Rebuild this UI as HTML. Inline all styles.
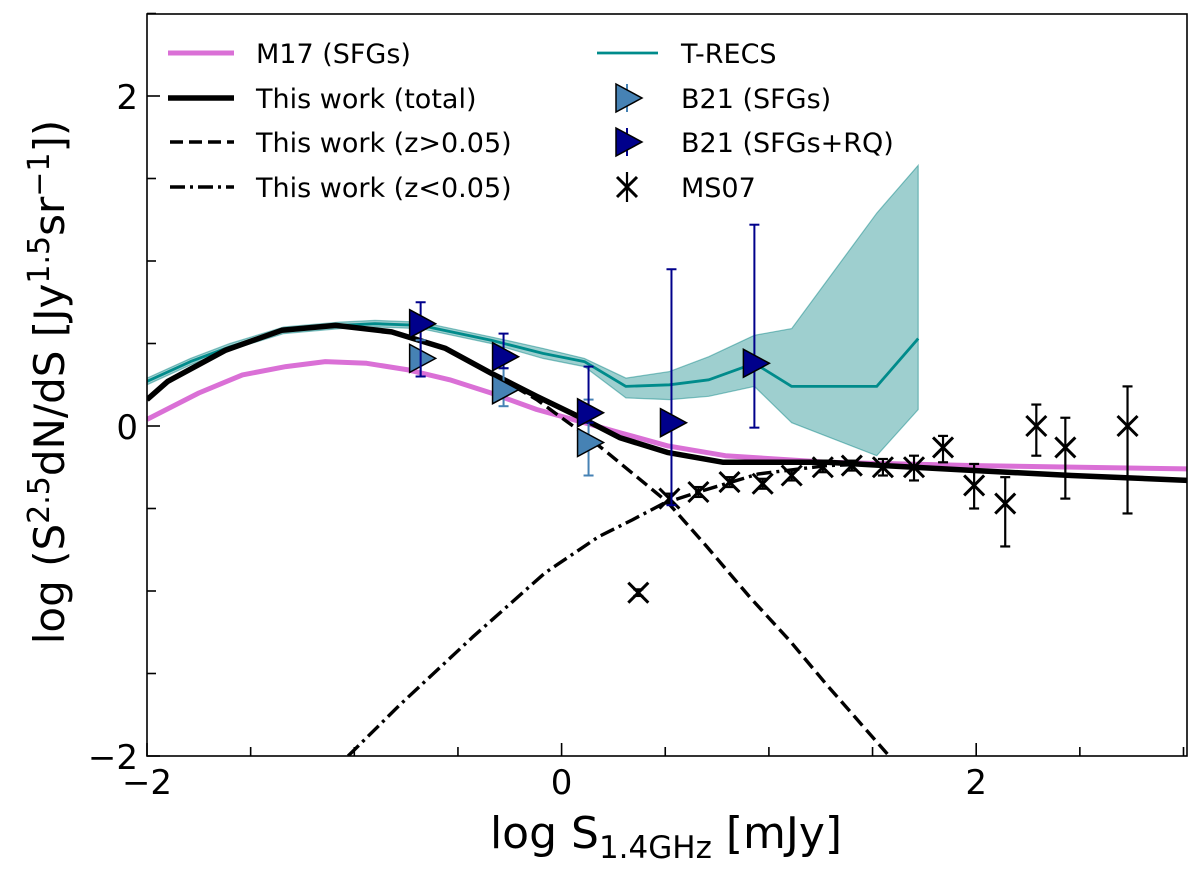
<!DOCTYPE html>
<html><head><meta charset="utf-8"><style>
html,body{margin:0;padding:0;background:#fff;}
svg{display:block;font-family:"DejaVu Sans","Liberation Sans",sans-serif;}
</style></head><body>
<svg id="chart" width="1200" height="873" viewBox="0 0 1200 873">
<defs><clipPath id="plotclip"><rect x="147" y="14" width="1040" height="742"/></clipPath></defs>
<g id="plot" clip-path="url(#plotclip)"></g>
<rect x="147" y="14" width="1040" height="742" fill="none" stroke="#000" stroke-width="1.6"/>
<g id="axes"></g>
<text x="666" y="848" font-size="44" text-anchor="middle">log S<tspan font-size="31" dy="10">1.4GHz</tspan><tspan dy="-10"> [mJy]</tspan></text>
<text transform="translate(64,382) rotate(-90)" font-size="42" text-anchor="middle">log (S<tspan font-size="30" dy="-15">2.5</tspan><tspan dy="15">dN/dS [Jy</tspan><tspan font-size="30" dy="-15">1.5</tspan><tspan dy="15">sr</tspan><tspan font-size="30" dy="-15">−1</tspan><tspan dy="15">])</tspan></text>
<g id="legend"></g>
</svg>
<script>
// ---- data ----
const trecsX = [-2.00,-1.79,-1.60,-1.34,-1.07,-0.90,-0.68,-0.34,-0.09,0.11,0.31,0.52,0.71,0.93,1.11,1.52,1.72];
const trecsY = [0.27,0.39,0.48,0.58,0.61,0.62,0.61,0.52,0.44,0.39,0.24,0.25,0.28,0.38,0.24,0.24,0.53];
const trecsHi = [0.29,0.41,0.50,0.60,0.63,0.64,0.63,0.54,0.47,0.41,0.29,0.33,0.42,0.55,0.59,1.29,1.58];
const trecsLo = [0.25,0.37,0.46,0.56,0.59,0.60,0.59,0.50,0.41,0.36,0.17,0.16,0.18,0.24,0.02,-0.18,0.10];
const m17X = [-2.00,-1.75,-1.54,-1.33,-1.14,-0.94,-0.74,-0.54,-0.34,-0.12,0.11,0.28,0.51,0.79,1.28,2.00,3.02];
const m17Y = [0.04,0.20,0.31,0.36,0.39,0.38,0.34,0.28,0.20,0.10,0.02,-0.04,-0.12,-0.18,-0.22,-0.24,-0.26];
const totX = [-2.00,-1.90,-1.62,-1.35,-1.09,-0.82,-0.56,-0.34,-0.12,0.11,0.28,0.51,0.78,1.28,1.70,2.00,2.46,3.02];
const totY = [0.16,0.27,0.46,0.58,0.61,0.57,0.47,0.32,0.18,0.04,-0.07,-0.16,-0.22,-0.22,-0.25,-0.27,-0.30,-0.33];
const hiZX = [-2.00,-1.90,-1.62,-1.35,-1.09,-0.82,-0.56,-0.34,-0.12,0.11,0.21,0.51,0.70,0.91,1.10,1.28,1.58];
const hiZY = [0.16,0.27,0.46,0.58,0.61,0.57,0.47,0.32,0.16,-0.05,-0.15,-0.46,-0.73,-1.04,-1.30,-1.57,-2.00];
const loZX = [-1.03,-0.78,-0.43,-0.08,0.18,0.34,0.49,0.66,0.95,1.28,1.50];
const loZY = [-2.00,-1.69,-1.28,-0.89,-0.67,-0.57,-0.47,-0.40,-0.29,-0.24,-0.23];
const b21sX = [-0.68,-0.28,0.13];
const b21sY = [0.41,0.22,-0.10];
const b21sHi = [0.52,0.35,0.16];
const b21sLo = [0.30,0.12,-0.30];
const b21rX = [-0.68,-0.28,0.13,0.53,0.93];
const b21rY = [0.62,0.42,0.08,0.02,0.38];
const b21rHi = [0.75,0.56,0.36,0.95,1.22];
const b21rLo = [0.30,0.35,0.02,-0.48,-0.01];
const msX = [0.37,0.52,0.66,0.81,0.97,1.11,1.26,1.40,1.55,1.70,1.84,1.99,2.14,2.29,2.43,2.73];
const msY = [-1.01,-0.44,-0.40,-0.34,-0.35,-0.30,-0.25,-0.24,-0.25,-0.25,-0.13,-0.36,-0.47,0.00,-0.13,0.00];
const msHi = [-0.99,-0.41,-0.37,-0.31,-0.32,-0.27,-0.22,-0.21,-0.20,-0.18,-0.06,-0.23,-0.31,0.13,0.05,0.24];
const msLo = [-1.03,-0.47,-0.43,-0.37,-0.38,-0.33,-0.28,-0.27,-0.30,-0.33,-0.22,-0.50,-0.73,-0.18,-0.44,-0.53];
const xTicks = [-2,0,2];
const yTicks = [2,0,-2];

// ---- scales ----
const X = v => 147 + (v + 2) * 207.3;
const Y = v => 426 - v * 165;
const NS = "http://www.w3.org/2000/svg";
function mk(tag, attrs, parent){ const e=document.createElementNS(NS,tag); for(const k in attrs) e.setAttribute(k,attrs[k]); parent.appendChild(e); return e; }
const plot = document.getElementById('plot');
const axes = document.getElementById('axes');
const legend = document.getElementById('legend');
function pts(xs, ys){ return xs.map((x,i)=>X(x).toFixed(1)+','+Y(ys[i]).toFixed(1)).join(' '); }

let band = mk('polygon',{points: pts(trecsX,trecsHi)+' '+pts(trecsX.slice().reverse(),trecsLo.slice().reverse()), fill:'#008080','fill-opacity':0.38, stroke:'#008080','stroke-opacity':0.45,'stroke-width':1.2}, plot);



let l;
l = mk('polyline',{points:pts(m17X,m17Y),fill:'none',stroke:'#da70d6','stroke-width':5,'stroke-linejoin':'round'},plot);


l = mk('polyline',{points:pts(trecsX,trecsY),fill:'none',stroke:'#008b8b','stroke-width':2.8,'stroke-linejoin':'round'},plot);


l = mk('polyline',{points:pts(hiZX,hiZY),fill:'none',stroke:'#000','stroke-width':3.4,'stroke-dasharray':'13,6','stroke-linejoin':'round'},plot);


l = mk('polyline',{points:pts(loZX,loZY),fill:'none',stroke:'#000','stroke-width':3.4,'stroke-dasharray':'15,5,3,5','stroke-linejoin':'round'},plot);


l = mk('polyline',{points:pts(totX,totY),fill:'none',stroke:'#000','stroke-width':5.5,'stroke-linejoin':'round'},plot);



function errbar(x, lo, hi, color, w, cap){
  const g = mk('g',{},plot);
  mk('line',{x1:X(x),x2:X(x),y1:Y(lo),y2:Y(hi),stroke:color,'stroke-width':w},g);
  mk('line',{x1:X(x)-cap,x2:X(x)+cap,y1:Y(lo),y2:Y(lo),stroke:color,'stroke-width':w},g);
  mk('line',{x1:X(x)-cap,x2:X(x)+cap,y1:Y(hi),y2:Y(hi),stroke:color,'stroke-width':w},g);
  return g;
}
function tri(cx, cy, color, parent){
  return mk('polygon',{points:`${cx-11},${cy-14} ${cx+15},${cy} ${cx-11},${cy+14}`,fill:color,stroke:'#000','stroke-width':1.5},parent);
}
function cross(cx, cy, parent){
  const g = mk('g',{stroke:'#000','stroke-width':3},parent);
  mk('line',{x1:cx-10,y1:cy-10,x2:cx+10,y2:cy+10},g);
  mk('line',{x1:cx-10,y1:cy+10,x2:cx+10,y2:cy-10},g);
  return g;
}
msX.forEach((x,i)=>{
  const e = errbar(x, msLo[i], msHi[i], '#000', 2.2, 5);
  
  
  const c = cross(X(x), Y(msY[i]), plot);
  
  
});
b21sX.forEach((x,i)=>{
  const e = errbar(x, b21sLo[i], b21sHi[i], '#4682b4', 2, 5);
  
  
  const t = tri(X(x), Y(b21sY[i]), '#4682b4', plot);
  
  
});
b21rX.forEach((x,i)=>{
  const e = errbar(x, b21rLo[i], b21rHi[i], '#00008b', 2, 5);
  
  
  const t = tri(X(x), Y(b21rY[i]), '#00008b', plot);
  
  
});

for(let v=-2; v<=3.01; v+=0.5){
  const major = Math.abs(v%2)<1e-6;
  const t = mk('line',{x1:X(v),x2:X(v),y1:756,y2:756-(major?13:9),stroke:'#000','stroke-width':1.6},axes);
  
  
}
for(let v=-2; v<=2.5; v+=0.5){
  const major = Math.abs(v%2)<1e-6;
  const t = mk('line',{x1:147,x2:147+(major?13:9),y1:Y(v),y2:Y(v),stroke:'#000','stroke-width':1.6},axes);
  
  
}
xTicks.forEach(v=>{
  const t = mk('text',{x:X(v),y:794,'font-size':34,'text-anchor':'middle'},axes);
  t.textContent = v<0 ? '−'+Math.abs(v) : String(v);
  
  
});
yTicks.forEach(v=>{
  const t = mk('text',{x:138,y:Y(v)+13,'font-size':34,'text-anchor':'end'},axes);
  t.textContent = v<0 ? '−'+Math.abs(v) : String(v);
  
  
});

function ltext(x,y,s,name){
  const t = mk('text',{x:x,y:y+10,'font-size':27},legend);
  t.textContent = s;
  
  
}
let e;
e = mk('line',{x1:168,x2:234,y1:53,y2:53,stroke:'#da70d6','stroke-width':5},legend);


ltext(256,53,'M17 (SFGs)','legend-m17-label');
e = mk('line',{x1:168,x2:234,y1:98,y2:98,stroke:'#000','stroke-width':5.5},legend);


ltext(256,98,'This work (total)','legend-total-label');
e = mk('line',{x1:170,x2:234,y1:142,y2:142,stroke:'#000','stroke-width':3.4,'stroke-dasharray':'13,6'},legend);


ltext(256,142,'This work (z>0.05)','legend-high-z-label');
e = mk('line',{x1:170,x2:234,y1:187,y2:187,stroke:'#000','stroke-width':3.4,'stroke-dasharray':'15,5,3,5'},legend);


ltext(256,187,'This work (z<0.05)','legend-low-z-label');
e = mk('line',{x1:597,x2:658,y1:53,y2:53,stroke:'#008b8b','stroke-width':2.8},legend);


ltext(681,53,'T-RECS','legend-t-recs-label');
mk('line',{x1:627,x2:627,y1:84,y2:112,stroke:'#4682b4','stroke-width':2},legend);
e = tri(627,98,'#4682b4',legend);


ltext(681,98,'B21 (SFGs)','legend-b21-sfg-label');
mk('line',{x1:627,x2:627,y1:128,y2:156,stroke:'#00008b','stroke-width':2},legend);
e = tri(627,142,'#00008b',legend);


ltext(681,142,'B21 (SFGs+RQ)','legend-b21-sfg-rq-label');
mk('line',{x1:627,x2:627,y1:172,y2:202,stroke:'#000','stroke-width':2.2},legend);
e = cross(627,187,legend);


ltext(681,187,'MS07','legend-ms07-label');
</script>
</body></html>
